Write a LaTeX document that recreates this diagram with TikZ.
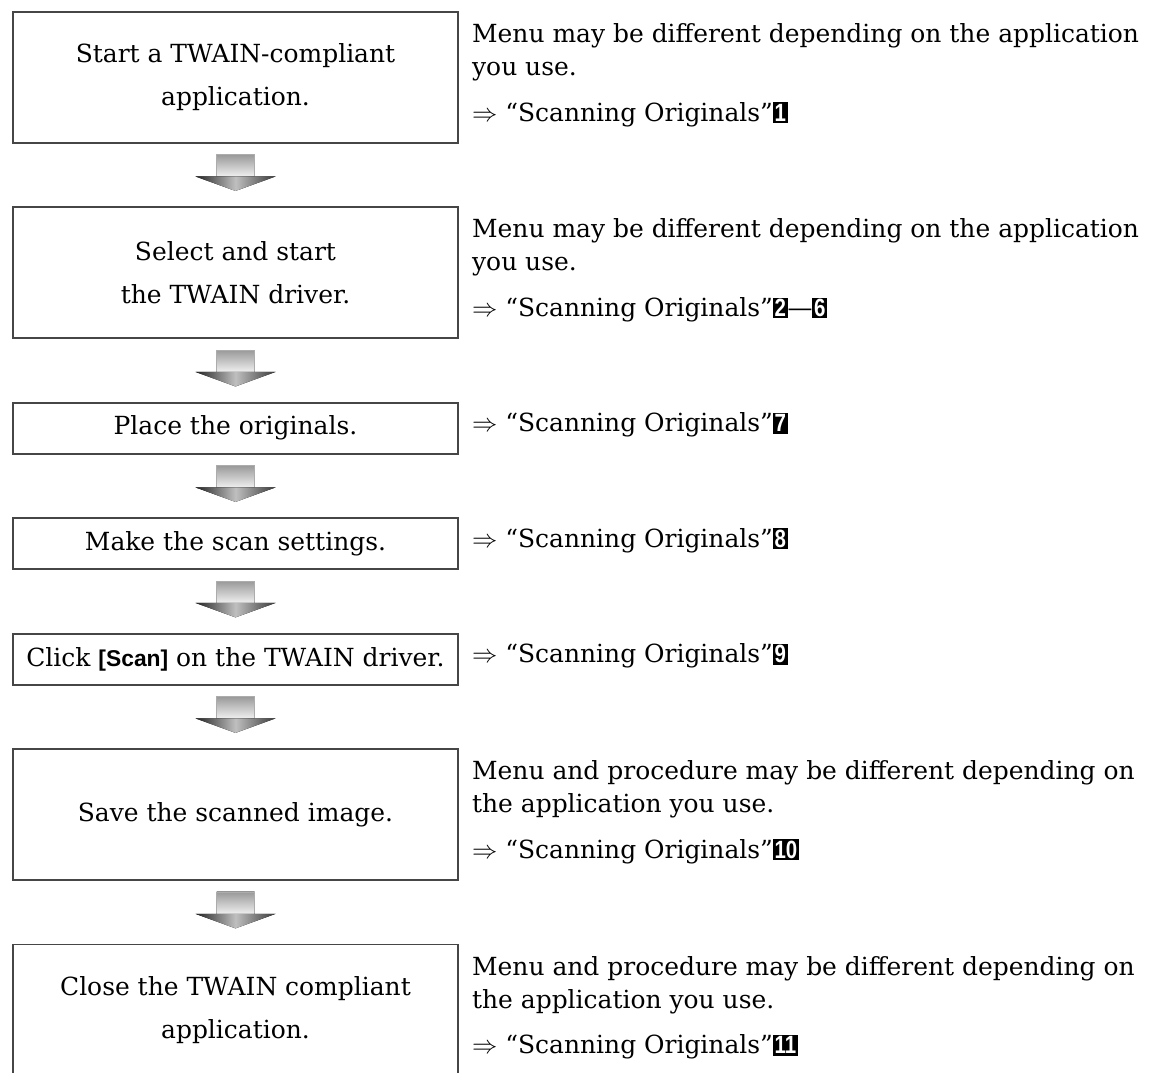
\documentclass[tikz,border=0pt]{standalone}
\usepackage{fontspec}
\setmainfont{DejaVu Serif}
\setsansfont{Liberation Sans}
\usepackage{graphicx}
\usetikzlibrary{positioning, calc}

\definecolor{boxedge}{RGB}{70, 70, 70}
\definecolor{arrowdark}{RGB}{35, 35, 35}

% black step badge and the cross reference line
\newcommand{\stepno}[1]{{\setlength{\fboxsep}{0.9pt}\colorbox{black}{\textcolor{white}{\sffamily\bfseries\scalebox{0.82}[1]{#1}}}}}
\newcommand{\seeref}[1]{$\Rightarrow$ “Scanning Originals”#1}

% gray block arrow between two steps
\newcommand{\flowarrow}[2]{
  \fill[top color=gray!80, bottom color=gray!12, draw=gray!65, line width=0.3pt]
    ($(#1.south)+(-0.38,-0.22)$) rectangle ($(#2.north)+(0.38,0.6)$);
  \fill[left color=arrowdark, right color=arrowdark!90, middle color=gray!50]
    ($(#2.north)+(-0.8,0.6)$) -- ($(#2.north)+(0.8,0.6)$) -- ($(#2.north)+(0,0.31)$) -- cycle;
}

\tikzset{
  stepbox/.style={draw=boxedge, line width=0.9pt, minimum width=8.9cm, align=center,
    inner sep=0pt, font=\fontsize{14.2}{24.5}\selectfont},
  tallbox/.style={stepbox, minimum height=2.62cm},
  flatbox/.style={stepbox, minimum height=1.02cm},
  note/.style={align=left, inner sep=0pt, font=\fontsize{14.2}{18.7}\selectfont},
}

\begin{document}
\begin{tikzpicture}
  \useasboundingbox (0,0) rectangle (23.02,-21.46);

  % steps
  \node[tallbox, anchor=north] (start) at (4.71,-0.22) {Start a TWAIN-compliant\\application.};
  \node[tallbox, below=1.258cm of start] (driver) {Select and start\\the TWAIN driver.};
  \node[flatbox, below=1.258cm of driver] (place) {Place the originals.};
  \node[flatbox, below=1.258cm of place] (settings) {Make the scan settings.};
  \node[flatbox, below=1.258cm of settings] (scan) {Click {\sffamily\bfseries\fontsize{13}{14}\selectfont[Scan]} on the TWAIN driver.};
  \node[tallbox, below=1.258cm of scan] (save) {Save the scanned image.};
  \node[tallbox, below=1.258cm of save] (close) {Close the TWAIN compliant\\application.};

  % notes
  \node[note, below right=0.24cm and 0.26cm of start.north east] (startnote)
    {Menu may be different depending on the application\\you use.\\[0.26cm]\seeref{\stepno{1}}};
  \node[note, below right=0.24cm and 0.26cm of driver.north east] (drivernote)
    {Menu may be different depending on the application\\you use.\\[0.26cm]\seeref{\stepno{2}—\stepno{6}}};
  \node[note, right=0.26cm of place, yshift=0.06cm] (placenote) {\seeref{\stepno{7}}};
  \node[note, right=0.26cm of settings, yshift=0.06cm] (settingsnote) {\seeref{\stepno{8}}};
  \node[note, right=0.26cm of scan, yshift=0.06cm] (scannote) {\seeref{\stepno{9}}};
  \node[note, below right=0.24cm and 0.26cm of save.north east] (savenote)
    {Menu and procedure may be different depending on\\the application you use.\\[0.26cm]\seeref{\stepno{10}}};
  \node[note, below right=0.24cm and 0.26cm of close.north east] (closenote)
    {Menu and procedure may be different depending on\\the application you use.\\[0.26cm]\seeref{\stepno{11}}};

  % arrows
  \flowarrow{start}{driver}
  \flowarrow{driver}{place}
  \flowarrow{place}{settings}
  \flowarrow{settings}{scan}
  \flowarrow{scan}{save}
  \flowarrow{save}{close}
\end{tikzpicture}
\end{document}
